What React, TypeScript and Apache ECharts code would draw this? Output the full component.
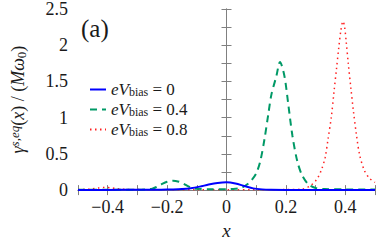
import React, { useEffect, useRef } from 'react';
import * as echarts from 'echarts';

const biasLabels = ['0', '0.4', '0.8'];

const blueX = [-0.5, -0.4, -0.3, -0.22, -0.18, -0.15, -0.12, -0.09, -0.06, -0.03, 0, 0.03, 0.06, 0.09, 0.12, 0.15, 0.2, 0.3, 0.4, 0.5];
const blueY = [0.002, 0.003, 0.004, 0.006, 0.009, 0.014, 0.026, 0.048, 0.076, 0.098, 0.107, 0.091, 0.057, 0.024, 0.01, 0.005, 0.003, 0.002, 0.002, 0.002];

const greenX = [-0.5, -0.4, -0.3, -0.27, -0.25, -0.235, -0.22, -0.2, -0.18, -0.16, -0.145, -0.13, -0.113, -0.1, -0.05, 0, 0.03, 0.05, 0.07, 0.085, 0.1, 0.114, 0.128, 0.141, 0.151, 0.168, 0.18, 0.195, 0.208, 0.222, 0.238, 0.254, 0.276, 0.3, 0.33, 0.4, 0.5];
const greenY = [0.005, 0.005, 0.006, 0.01, 0.02, 0.045, 0.078, 0.115, 0.13, 0.115, 0.09, 0.055, 0.026, 0.018, 0.012, 0.012, 0.018, 0.032, 0.08, 0.14, 0.23, 0.404, 0.707, 1.055, 1.315, 1.575, 1.77, 1.575, 1.185, 0.75, 0.404, 0.21, 0.078, 0.03, 0.015, 0.01, 0.008];

const redX = [-0.5, -0.46, -0.43, -0.41, -0.39, -0.37, -0.34, -0.3, -0.2, -0.1, 0, 0.1, 0.2, 0.254, 0.281, 0.303, 0.319, 0.332, 0.342, 0.353, 0.362, 0.37, 0.378, 0.385, 0.392, 0.397, 0.403, 0.41, 0.419, 0.427, 0.438, 0.448, 0.464, 0.481, 0.5];
const redY = [0.006, 0.015, 0.03, 0.035, 0.032, 0.02, 0.01, 0.007, 0.006, 0.006, 0.006, 0.006, 0.007, 0.013, 0.056, 0.143, 0.273, 0.447, 0.707, 1.01, 1.36, 1.66, 1.966, 2.2, 2.33, 2.27, 2.05, 1.75, 1.4, 1.1, 0.75, 0.49, 0.273, 0.165, 0.105];

const FONT = 'Liberation Serif';
const AXIS_COLOR = '#808080';
const TEXT_COLOR = '#1a1a1a';

function pairs(xs: number[], ys: number[]) {
  return xs.map((x, i) => [x, ys[i]]);
}

export default function App() {
  const ref = useRef<HTMLDivElement>(null);
  useEffect(() => {
    const chart = echarts.init(ref.current!, null, { renderer: 'svg' });
    const names = biasLabels.map((b) => 'eV_bias = ' + b);
    const axisCommon = {
      axisLine: { show: true, lineStyle: { color: AXIS_COLOR, width: 1 } },
      axisTick: { show: true, inside: true, length: 5, lineStyle: { color: AXIS_COLOR } },
      splitLine: { show: false },
    };
    const xFmt = (v: number) => {
      const r = Math.round(v * 10);
      if (r % 2 !== 0) return '';
      const s = String(r / 10);
      return s.replace('-', '\u2212');
    };
    const yFmt = (v: number) => {
      const r = Math.round(v * 4);
      if (r % 2 !== 0) return '';
      return String(r / 4);
    };
    const option = {
      animation: false,
      grid: { left: 67, right: 2, top: 9, bottom: 44, containLabel: false },
      xAxis: [
        {
          type: 'value', min: -0.5, max: 0.5, interval: 0.1, position: 'bottom',
          ...axisCommon,
          axisLabel: { formatter: xFmt, fontFamily: FONT, fontSize: 18, color: TEXT_COLOR, margin: 8 },
          name: 'x', nameLocation: 'middle', nameGap: 28,
          nameTextStyle: { fontFamily: FONT, fontSize: 19, fontStyle: 'italic', color: TEXT_COLOR },
        },
        {
          type: 'value', min: -0.5, max: 0.5, interval: 0.1, position: 'top',
          ...axisCommon, axisLabel: { show: false },
        },
      ],
      yAxis: [
        {
          type: 'value', min: 0, max: 2.5, interval: 0.25, position: 'left',
          ...axisCommon,
          axisLabel: { formatter: yFmt, fontFamily: FONT, fontSize: 18, color: TEXT_COLOR, margin: 10 },
          name: '{i|\u03b3}{sup|s,eq}{n|(}{i|x}{n|) / (}{i|M\u03c9}{sub|0}{n|)}',
          nameLocation: 'middle', nameGap: 50, nameRotate: 90,
          nameTextStyle: {
            color: TEXT_COLOR, fontFamily: FONT,
            rich: {
              i: { fontFamily: FONT, fontSize: 18, fontStyle: 'italic', color: TEXT_COLOR, lineHeight: 20, verticalAlign: 'middle' },
              n: { fontFamily: FONT, fontSize: 18, color: TEXT_COLOR, lineHeight: 20, verticalAlign: 'middle' },
              sup: { fontFamily: FONT, fontSize: 13, fontStyle: 'italic', color: TEXT_COLOR, lineHeight: 12, verticalAlign: 'top' },
              sub: { fontFamily: FONT, fontSize: 13, color: TEXT_COLOR, lineHeight: 8, verticalAlign: 'bottom' },
            },
          },
        },
        {
          type: 'value', min: 0, max: 2.5, interval: 0.25, position: 'right',
          ...axisCommon, axisLabel: { show: false },
        },
      ],
      legend: {
        orient: 'vertical', left: 84, top: 76, itemWidth: 16, itemHeight: 10, itemGap: 3,
        data: names,
        itemStyle: { opacity: 0 },
        formatter: (name: string) => {
          const v = name.split('= ')[1];
          return '{i|eV}{sub|bias}{n| = ' + v + '}';
        },
        textStyle: {
          fontFamily: FONT,
          rich: {
            i: { fontFamily: FONT, fontSize: 17, fontStyle: 'italic', color: TEXT_COLOR, lineHeight: 16, verticalAlign: 'middle' },
            n: { fontFamily: FONT, fontSize: 17, color: TEXT_COLOR, lineHeight: 16, verticalAlign: 'middle' },
            sub: { fontFamily: FONT, fontSize: 12, color: TEXT_COLOR, lineHeight: 8, verticalAlign: 'bottom' },
          },
        },
      },
      graphic: [
        {
          type: 'text', left: 81, top: 16,
          style: { text: '(a)', fontFamily: FONT, fontSize: 25, fill: TEXT_COLOR },
        },
      ],
      series: [
        {
          name: names[0], type: 'line', data: pairs(blueX, blueY), smooth: 0.3, symbol: 'none',
          lineStyle: { color: '#0000ff', width: 2 }, itemStyle: { color: '#0000ff' }, z: 3,
        },
        {
          name: names[1], type: 'line', data: pairs(greenX, greenY), smooth: 0.3, symbol: 'none',
          lineStyle: { color: '#009966', width: 2, type: [7, 5] }, itemStyle: { color: '#009966' }, z: 2,
        },
        {
          name: names[2], type: 'line', data: pairs(redX, redY), smooth: 0.3, symbol: 'none',
          lineStyle: { color: '#ff2020', width: 1.5, type: [1.5, 3.5] }, itemStyle: { color: '#ff2020' }, z: 1,
        },
      ],
    };
    chart.setOption(option as any);
    return () => chart.dispose();
  }, []);
  return <div ref={ref} style={{ width: 378, height: 245, position: 'absolute', left: 0, top: 0 }} />;
}
